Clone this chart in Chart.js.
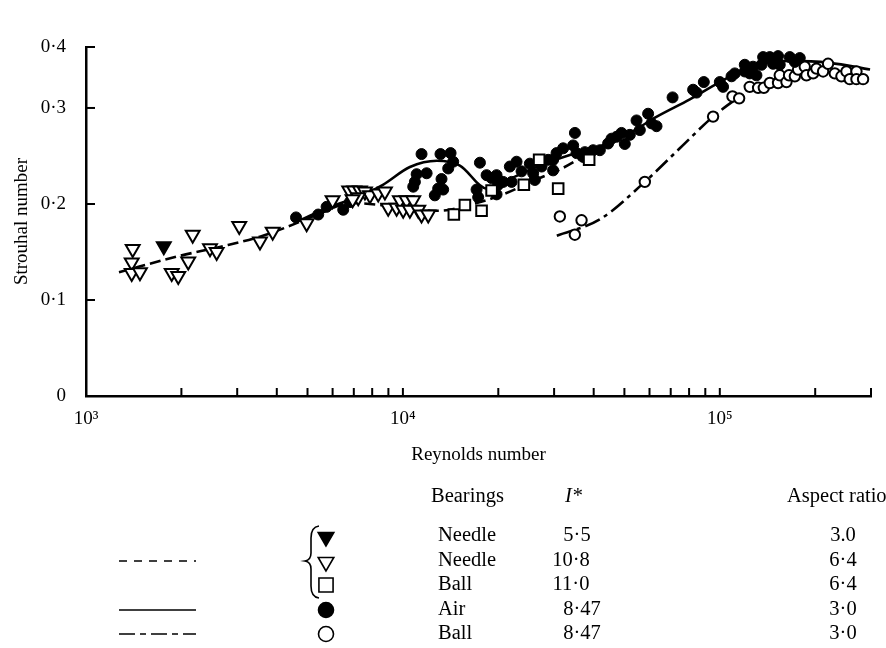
<!DOCTYPE html>
<html>
<head>
<meta charset="utf-8">
<script src="https://cdn.jsdelivr.net/npm/chart.js@4/dist/chart.umd.min.js"></script>
<style>
  html, body { margin: 0; padding: 0; background: #fff; }
  #wrap { width: 886px; height: 648px; position: relative; }
</style>
</head>
<body>
<div id="wrap"><canvas id="chart"></canvas></div>
<script>
// --- Dados ---
const reTicks = [1e3, 2e3, 3e3, 4e3, 5e3, 6e3, 7e3, 8e3, 9e3,
                 1e4, 2e4, 3e4, 4e4, 5e4, 6e4, 7e4, 8e4, 9e4,
                 1e5, 2e5, 3e5];
const decadeLabels = { 1000: '10³', 10000: '10⁴', 100000: '10⁵' };
const stTicks = [0, 0.1, 0.2, 0.3];
const stTopLabel = '0·4';

// Needle, I* 5.5 (triângulo cheio)
const needle55Re = [1760];
const needle55St = [0.156];

// Needle, I* 10.8 (triângulo aberto)
const needle108Re = [1404, 1394, 1394, 1480, 1864, 1955, 2102, 2171, 2462, 2584, 3045, 3540, 3882, 4969,
                     6000, 6770, 7020, 7318, 7589, 7870, 8358, 8775, 7228, 6939, 8987, 9553, 9784, 10270,
                     10780, 10020, 10520, 11180, 11450, 12020];
const needle108St = [0.153, 0.139, 0.128, 0.129, 0.128, 0.125, 0.140, 0.168, 0.154, 0.150, 0.177, 0.161, 0.171, 0.180,
                     0.204, 0.214, 0.214, 0.214, 0.213, 0.209, 0.211, 0.213, 0.207, 0.205, 0.196, 0.196, 0.204, 0.204,
                     0.204, 0.194, 0.194, 0.194, 0.189, 0.189];

// Ball, I* 11.0 (quadrado aberto)
const ball110Re = [14480, 15690, 17710, 19050, 24080, 26910, 30900, 38700];
const ball110St = [0.189, 0.199, 0.193, 0.214, 0.220, 0.246, 0.216, 0.246];

// Air, I* 8.47 (círculo cheio)
const airRe = [4600, 5405, 5744, 6482, 6804, 11450, 13140, 14140, 14410, 11050, 11880, 10910, 10780, 13240,
               13900, 12920, 13400, 12610, 17500, 17080, 17280, 18370, 19050, 19750, 19980, 19750, 20720, 22030,
               21750, 22840, 23680, 25150, 25760, 26090, 27390, 28730, 29790, 30540, 32040, 34460, 34900, 35310,
               37510, 39840, 29790, 37050, 41830, 44420, 45530, 47210, 48960, 50150, 52010, 54610, 55930, 59400,
               60890, 63140, 70950, 82380, 84440, 89040, 100000, 102400, 108900, 111500, 119900, 122800, 127300,
               119900, 124300, 130500, 137000, 143800, 152700, 166300, 172500, 178800, 147300, 135400, 154600];
const airSt = [0.186, 0.189, 0.197, 0.194, 0.202, 0.252, 0.252, 0.253, 0.244, 0.231, 0.232, 0.223, 0.218, 0.226,
               0.237, 0.216, 0.215, 0.209, 0.243, 0.215, 0.207, 0.230, 0.227, 0.230, 0.220, 0.210, 0.223, 0.223,
               0.239, 0.244, 0.234, 0.242, 0.232, 0.225, 0.239, 0.246, 0.235, 0.253, 0.258, 0.261, 0.274, 0.253,
               0.254, 0.256, 0.246, 0.249, 0.256, 0.263, 0.268, 0.270, 0.274, 0.2625, 0.272, 0.287, 0.277, 0.294,
               0.284, 0.281, 0.311, 0.319, 0.316, 0.327, 0.327, 0.322, 0.333, 0.336, 0.345, 0.340, 0.343,
               0.338, 0.336, 0.334, 0.353, 0.353, 0.354, 0.353, 0.348, 0.352, 0.346, 0.345, 0.345];

// Ball, I* 8.47 (círculo aberto)
const ball847Re = [31280, 36620, 34880, 57990, 95240, 109650, 115100, 124300, 132100, 137700, 143800, 152700,
                   154600, 162300, 165400, 172500, 176600, 185400, 187700, 197000, 201800, 211800, 219600,
                   230600, 242000, 251000, 257100, 269900, 269900, 283200];
const ball847St = [0.187, 0.183, 0.168, 0.223, 0.291, 0.312, 0.310, 0.322, 0.321, 0.321, 0.326, 0.326,
                   0.334, 0.327, 0.334, 0.333, 0.340, 0.343, 0.334, 0.336, 0.341, 0.338, 0.346,
                   0.336, 0.333, 0.338, 0.330, 0.338, 0.330, 0.330];

// Curvas ajustadas
const dashedRe = [1271, 1980, 2705, 3540, 4306, 5472, 6804, 8460, 10520, 13080, 15800, 20720, 25710, 31970, 39840];
const dashedSt = [0.129, 0.146, 0.156, 0.166, 0.176, 0.190, 0.201, 0.199, 0.194, 0.193, 0.198, 0.210, 0.224, 0.2375, 0.256];

const solidRe = [4733, 5883, 7318, 8648, 10520, 12800, 15130, 18410, 21750, 27050, 33640, 41830, 52010, 63280,
                 80430, 100000, 127300, 166300, 222300, 298000];
const solidSt = [0.183, 0.197, 0.208, 0.220, 0.2385, 0.245, 0.240, 0.216, 0.226, 0.240, 0.251, 0.260, 0.274, 0.291,
                 0.309, 0.327, 0.344, 0.349, 0.347, 0.340];

const dashDotRe = [30600, 41830, 57990, 74790, 95240, 119900];
const dashDotSt = [0.167, 0.184, 0.223, 0.258, 0.291, 0.316];

// Tabela da legenda
const legendBearings = ['Needle', 'Needle', 'Ball', 'Air', 'Ball'];
const legendI = ['5·5', '10·8', '11·0', '8·47', '8·47'];
const legendAspect = ['3.0', '6·4', '6·4', '3·0', '3·0'];

const FONT = '"Liberation Serif", "DejaVu Serif", serif';
const pts = (xs, ys) => xs.map((x, i) => ({ x: x, y: ys[i] }));

const curve = (xs, ys, dash) => ({
    data: pts(xs, ys), showLine: true, pointRadius: 0, borderColor: '#000', borderWidth: 2.6,
    borderDash: dash, tension: 0.4, cubicInterpolationMode: 'monotone', fill: false, order: 10
});

// --- Plugin: ticks internos e tabela da legenda ---
const extras = {
    id: 'extras',
    afterDraw(chart) {
        const ctx = chart.ctx;
        const xs = chart.scales.x, ys = chart.scales.y;
        const area = chart.chartArea;
        ctx.save();
        ctx.strokeStyle = '#000';
        ctx.lineWidth = 2;
        reTicks.forEach(v => {
            if (v === 1e3) return;
            const px = xs.getPixelForValue(v);
            ctx.beginPath(); ctx.moveTo(px, area.bottom); ctx.lineTo(px, area.bottom - 8); ctx.stroke();
        });
        stTicks.concat([ys.max]).forEach(v => {
            if (v === 0) return;
            const py = ys.getPixelForValue(v);
            ctx.beginPath(); ctx.moveTo(area.left, py); ctx.lineTo(area.left + 9, py); ctx.stroke();
        });

        // cabeçalho
        ctx.fillStyle = '#000';
        ctx.font = '20.5px ' + FONT;
        ctx.textBaseline = 'middle';
        ctx.textAlign = 'left';
        ctx.fillText('Bearings', 431, 497);
        ctx.fillText('Aspect ratio', 787, 497);
        ctx.font = 'italic 20.5px ' + FONT;
        ctx.fillText('I*', 565, 497);

        const rowY = [536, 561, 585, 610, 634];
        const markers = [
            { pointStyle: 'triangle', rotation: 180, radius: 9, fill: '#000' },
            { pointStyle: 'triangle', rotation: 180, radius: 9, fill: '#fff' },
            { pointStyle: 'rect', rotation: 0, radius: 10, fill: '#fff' },
            { pointStyle: 'circle', rotation: 0, radius: 7.5, fill: '#000' },
            { pointStyle: 'circle', rotation: 0, radius: 7.5, fill: '#fff' }
        ];
        rowY.forEach((y, i) => {
            ctx.font = '20.5px ' + FONT;
            ctx.textAlign = 'left';
            ctx.fillStyle = '#000';
            ctx.fillText(legendBearings[i], 438, y);
            ctx.textAlign = 'center';
            ctx.fillText(legendI[i], i >= 3 ? 582 : (i === 0 ? 577 : 571), y);
            ctx.fillText(legendAspect[i], 843, y);
            const m = markers[i];
            ctx.fillStyle = m.fill;
            ctx.strokeStyle = '#000';
            ctx.lineWidth = 1.6;
            Chart.helpers.drawPoint(ctx, { pointStyle: m.pointStyle, rotation: m.rotation, radius: m.radius, borderWidth: 1.6 }, 326, y + (m.pointStyle === 'triangle' ? 1 : 0));
        });

        // chave
        ctx.strokeStyle = '#000';
        ctx.lineWidth = 1.6;
        ctx.beginPath();
        ctx.moveTo(319, 526);
        ctx.quadraticCurveTo(311, 527, 311, 538);
        ctx.lineTo(311, 553);
        ctx.quadraticCurveTo(311, 560, 305, 561);
        ctx.quadraticCurveTo(311, 562, 311, 569);
        ctx.lineTo(311, 586);
        ctx.quadraticCurveTo(311, 597, 319, 598);
        ctx.stroke();

        // amostras de linha
        ctx.lineWidth = 1.5;
        const sample = (y, dash) => {
            ctx.setLineDash(dash);
            ctx.beginPath(); ctx.moveTo(119, y); ctx.lineTo(196, y); ctx.stroke();
        };
        sample(561, [8, 7]);
        sample(610, []);
        sample(634, [16, 5, 6, 5]);
        ctx.setLineDash([]);
        ctx.restore();
    }
};

const chart = new Chart(document.getElementById('chart'), {
    type: 'scatter',
    data: {
        datasets: [
            curve(dashedRe, dashedSt, [11, 5]),
            curve(solidRe, solidSt, []),
            curve(dashDotRe, dashDotSt, [16, 5, 4, 5]),
            { data: pts(needle55Re, needle55St), pointStyle: 'triangle', rotation: 180, radius: 8,
              backgroundColor: '#000', borderColor: '#000', borderWidth: 2, order: 1 },
            { data: pts(needle108Re, needle108St), pointStyle: 'triangle', rotation: 180, radius: 8,
              backgroundColor: '#fff', borderColor: '#000', borderWidth: 2, order: 1 },
            { data: pts(ball110Re, ball110St), pointStyle: 'rect', radius: 7.5,
              backgroundColor: '#fff', borderColor: '#000', borderWidth: 2, order: 1 },
            { data: pts(airRe, airSt), pointStyle: 'circle', radius: 5.5,
              backgroundColor: '#000', borderColor: '#000', borderWidth: 1, order: 1 },
            { data: pts(ball847Re, ball847St), pointStyle: 'circle', radius: 5.2,
              backgroundColor: '#fff', borderColor: '#000', borderWidth: 2, order: 1 }
        ]
    },
    options: {
        responsive: true, maintainAspectRatio: false, animation: false,
        layout: { padding: { left: 0, top: 47, right: 15, bottom: 177 } },
        plugins: { legend: { display: false }, tooltip: { enabled: false } },
        scales: {
            x: {
                type: 'logarithmic', min: 1000, max: 300000,
                afterBuildTicks: (s) => { s.ticks = reTicks.map(v => ({ value: v })); },
                afterFit: (s) => { s.height = 75; },
                grid: { display: false },
                border: { display: true, color: '#000', width: 2.5 },
                ticks: {
                    autoSkip: false, maxRotation: 0, padding: 4, color: '#000',
                    font: { family: FONT, size: 19 },
                    callback: (v) => decadeLabels[v] || ''
                },
                title: { display: true, text: 'Reynolds number', color: '#000',
                         font: { family: FONT, size: 19 }, padding: { top: 0, bottom: 5 } }
            },
            y: {
                min: 0, max: 0.3635,
                afterBuildTicks: (s) => { s.ticks = stTicks.concat([s.max]).map(v => ({ value: v })); },
                afterFit: (s) => { s.width = 86; },
                grid: { display: false },
                border: { display: true, color: '#000', width: 2.5 },
                ticks: {
                    padding: 12, color: '#000', font: { family: FONT, size: 19 },
                    callback: (v) => v === 0 ? '0' : (v > 0.35 ? stTopLabel : v.toFixed(1).replace('.', '·'))
                },
                title: { display: true, text: 'Strouhal number', color: '#000',
                         font: { family: FONT, size: 19 }, padding: { top: 11, bottom: 0 } }
            }
        }
    },
    plugins: [extras]
});
</script>
</body>
</html>
